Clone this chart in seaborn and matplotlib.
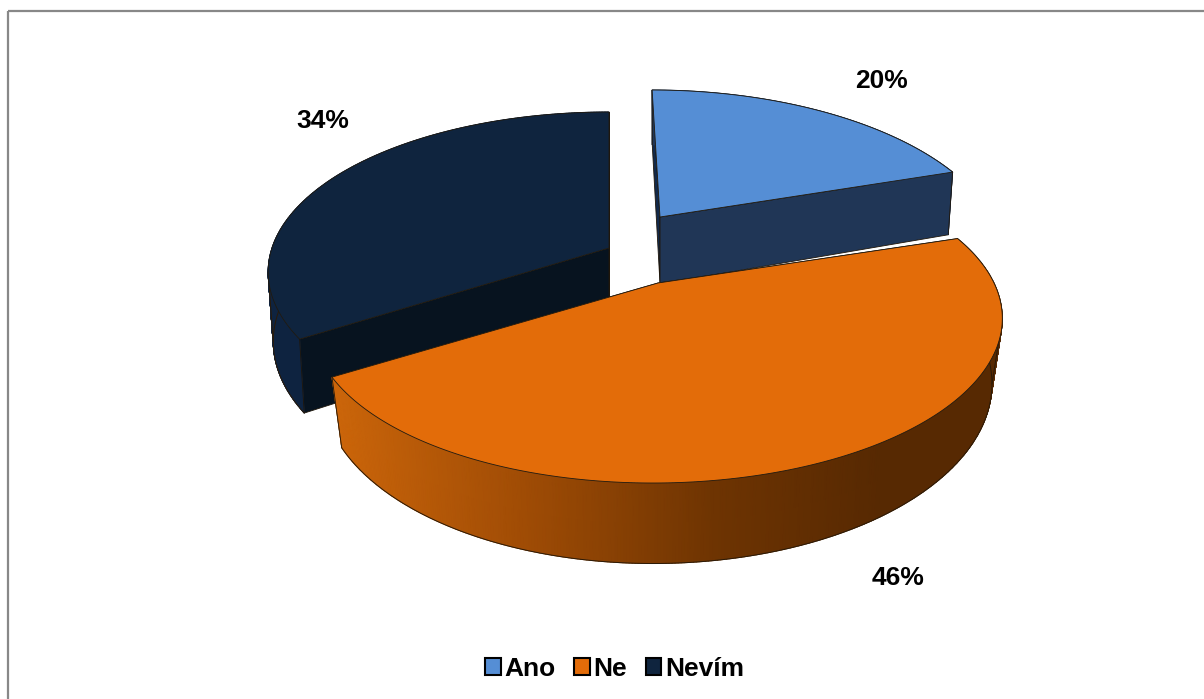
import numpy as np
import pandas as pd
import seaborn as sns
import matplotlib
matplotlib.use("Agg")
import matplotlib.pyplot as plt
from matplotlib.patches import Patch, Rectangle
from matplotlib.colors import LinearSegmentedColormap

# ---- data
categories = ["Ano", "Ne", "Nevím"]
shares = [20, 46, 34]

# ---- style
top_colors = ["#558ED5", "#E36C09", "#0F243E"]
start_face = ["#12294A", "#5A2B02", "#07131F"]
end_face = ["#203656", "#5A2B02", "#07131F"]
rim_maps = [
    LinearSegmentedColormap.from_list("a", ["#203656", "#203656"]),
    LinearSegmentedColormap.from_list(
        "b", [(0, "#CC660A"), (0.35, "#A04C05"), (0.7, "#6E3402"), (1, "#572902")]),
    LinearSegmentedColormap.from_list("c", ["#0E2340", "#0E2340"]),
]
label_pos = [(881, 81), (898, 578), (323, 121)]
# per-slice projection: apex x, apex y, A, B, k, shear, depth, shrink
projection = [
    (660, 217, 332.0, 155.3, 0.2231, -0.029, 67.0, 0.985),
    (658, 283, 336.0, 154.0, 0.2300, 0.012, 62.0, 0.970),
    (609, 248, 337.0, 156.4, 0.1500, 0.000, 68.0, 0.985),
]
GRADIENT_END_X = 880

sns.set_theme(style="white")
plt.rcParams["font.family"] = ["Liberation Sans", "DejaVu Sans"]

df = pd.DataFrame({"category": categories, "share": shares})
df["start"] = df["share"].cumsum().shift(fill_value=0) / df["share"].sum() * 2 * np.pi
df["end"] = df["share"].cumsum() / df["share"].sum() * 2 * np.pi

fig = plt.figure(figsize=(12.04, 6.99), dpi=100, facecolor="white")
ax = fig.add_axes([0, 0, 1, 1])
ax.add_patch(Rectangle((7.5, 10.5), 1300, 800, fill=False, ec="#888888", lw=1.6))


def top(theta, p):
    x0, y0, A, B, k, s = p[:6]
    u, v = np.sin(theta), np.cos(theta)
    w = 1 + k * v
    return x0 + A * (u + s * v) / w, y0 - B * v / w


def bottom(theta, p):
    x0, y0, A, B, k, s, d, sh = p
    u, v = np.sin(theta), np.cos(theta)
    w = 1 + k * v
    return x0 + sh * A * (u + s * v) / w, y0 - B * v / w + d / w


z = 2
OUTLINE = "#1f160a"


def draw_slice(i, row):
    global z
    p = projection[i]
    th = np.linspace(row.start, row.end, 400)
    tx, ty = top(th, p)
    bx, by = bottom(th, p)
    a0, a1 = p[0], p[1]
    b0, b1 = p[0], p[1] + p[6]
    ekw = dict(ec=OUTLINE, lw=0.6, zorder=z)
    ax.fill([a0, tx[0], bx[0], b0], [a1, ty[0], by[0], b1], fc=start_face[i], **ekw)
    ax.fill([a0, tx[-1], bx[-1], b0], [a1, ty[-1], by[-1], b1], fc=end_face[i], **ekw)
    # rim as a mesh between the upper and lower arc, so it fills the silhouette
    X = np.vstack([tx, bx])
    Y = np.vstack([ty, by])
    C = np.clip((X - tx.min()) / (GRADIENT_END_X - tx.min()), 0, 1)
    ax.pcolormesh(X, Y, C, cmap=rim_maps[i], vmin=0, vmax=1, shading="gouraud", zorder=z)
    front = np.cos(th) < 0.25
    ax.plot(np.where(front, bx, np.nan), np.where(front, by, np.nan), color="#2a1a08", lw=0.7, zorder=z)
    ax.plot([tx[0], bx[0]], [ty[0], by[0]], color=OUTLINE, lw=0.6, zorder=z)
    ax.plot([tx[-1], bx[-1]], [ty[-1], by[-1]], color=OUTLINE, lw=0.6, zorder=z)
    # silhouette edges of the rim
    for j in (int(np.argmin(tx)), int(np.argmax(tx))):
        if 0 < j < len(th) - 1:
            ax.plot([tx[j], bx[j]], [ty[j], by[j]], color="#2a1a08", lw=0.7, zorder=z)
    ax.fill(np.r_[a0, tx], np.r_[a1, ty], fc=top_colors[i], ec="#201a10", lw=0.6, zorder=z + 0.5)
    z += 1


for i in [2, 0, 1]:
    draw_slice(i, df.iloc[i])

for i, row in df.iterrows():
    ax.text(*label_pos[i], f"{row.share}%", ha="center", va="center",
            fontsize=19, fontweight="bold", color="black", zorder=10)

ax.set_xlim(0, 1204)
ax.set_ylim(699, 0)
ax.axis("off")

handles = [Patch(fc=c, ec="black", lw=1.5) for c in top_colors]
leg = ax.legend(handles, categories, loc="center", bbox_to_anchor=(0.5105, 1 - 669 / 699),
                ncol=3, frameon=False, handlelength=0.58, handleheight=0.58, handletextpad=0.14,
                columnspacing=0.72, prop={"size": 19, "weight": "bold"})
for t in leg.get_texts():
    t.set_color("black")

fig.savefig("out.png", dpi=100)
